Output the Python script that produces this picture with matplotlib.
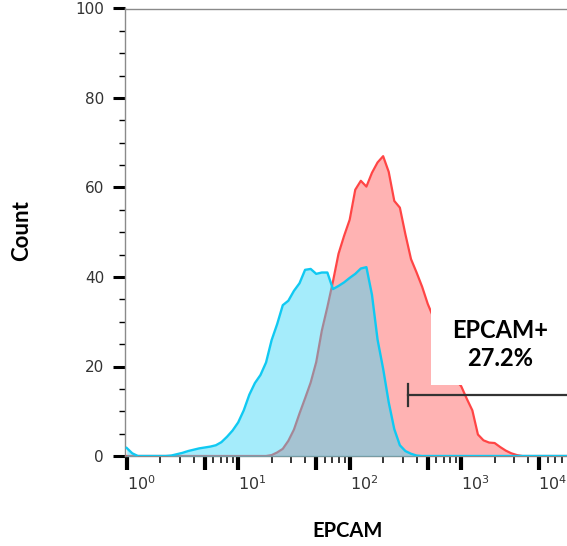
import numpy as np
import matplotlib
matplotlib.use("Agg")
import matplotlib.pyplot as plt
from matplotlib.patches import Rectangle

# histogram bins, log10 of EPCAM intensity (bin centres)
log_bins = np.round(np.arange(0, 4.001, 0.05), 2)

# isotype / negative control (cyan)
control_count = [1.8, 0.6, 0, 0, 0, 0, 0, 0, 0.1, 0.4,
                 0.7, 1.1, 1.4, 1.7, 1.9, 2.1, 2.4, 3.1, 4.3, 5.7,
                 7.5, 10.2, 13.7, 16.3, 18.1, 20.9, 25.9, 29.5, 33.7, 34.7,
                 36.9, 38.6, 41.6, 41.8, 40.7, 41.0, 41.0, 37.3, 38.0, 38.8,
                 39.8, 40.7, 41.9, 42.2, 36.0, 26.0, 19.5, 12.0, 6.0, 2.4,
                 1.1, 0.5, 0.1] + [0] * 28

# EPCAM stained sample (red)
epcam_count = [0] * 26 + [0.2, 0.8, 1.6, 3.4, 5.9, 9.5, 12.9, 16.4, 21.0, 28.0,
                          33.3, 39.0, 45.2, 49.2, 52.8, 59.5, 61.5, 60.2, 63.3, 65.6,
                          67.0, 63.5, 57.0, 55.5, 49.5, 44.0, 41.0, 37.8, 34.0, 31.0,
                          27.5, 24.0, 21.0, 17.0, 15.6, 12.8, 10.2, 4.8, 3.5, 3.0,
                          2.9, 2.0, 1.2, 0.6, 0.2] + [0] * 10

# gate
gate_start = 333
gate_level = 13.6
gate_label = "EPCAM+\n27.2%"

x = 10 ** log_bins
x_lo, x_hi = 10 ** -0.015, 10 ** 4.2

fig = plt.figure(figsize=(5.67, 5.46), dpi=100)
ax = fig.add_axes([125 / 567, 90 / 546, 470 / 567, 447.5 / 546])
ax.set_xscale("log")

ax.fill_between(x, epcam_count, 0, color="#ffb3b3", lw=0, zorder=1)
ax.plot(x, epcam_count, color="#ff4545", lw=1.6, zorder=2)
ax.fill_between(x, control_count, 0, color="#3bd6f8", alpha=0.46, lw=0, zorder=3)
ax.plot(x, control_count, color="#10c9f2", lw=1.7, zorder=4)

# label box + gate bar
ax.add_patch(Rectangle((10 ** 2.729, 15.8), x_hi - 10 ** 2.729, 18.4,
                       facecolor="white", lw=0, zorder=5))
ax.text(10 ** 3.348, 24.9, gate_label, ha="center", va="center",
        fontsize=17, fontweight="bold", family="Lato", linespacing=1.25, zorder=6)
ax.plot([gate_start, x_hi], [gate_level, gate_level], color="#333333", lw=1.6, zorder=6)
ax.plot([gate_start, gate_start], [gate_level - 2.4, gate_level + 2.6],
        color="#333333", lw=1.6, zorder=6)

ax.set_xlim(x_lo, x_hi)
ax.set_ylim(0, 100)

# axis ticks
majors = [1, 5, 10, 50, 100, 500, 1000, 5000, 10000]
labels = ["$10^{0}$", "", "$10^{1}$", "", "$10^{2}$", "", "$10^{3}$", "", ""]
ax.set_xticks(majors, labels)
ax.set_xticks([m * 10 ** d for d in range(4) for m in (2, 3, 4, 6, 7, 8, 9)], minor=True)
for lab in ax.get_xticklabels():
    lab.set_ha("left")

ax.set_yticks(np.arange(0, 101, 20))
ax.set_yticks(np.arange(0, 101, 5), minor=True)

ax.tick_params(axis="x", which="major", length=10, width=3, pad=3.5, labelsize=11.5,
               labelcolor="#333333")
ax.tick_params(axis="x", which="minor", length=5, width=1.1)
ax.tick_params(axis="y", which="major", length=8.6, width=2.2, pad=6.5, labelsize=11,
               labelcolor="#333333")
ax.tick_params(axis="y", which="minor", length=4.3, width=1)

for side in ["left", "top", "bottom", "right"]:
    ax.spines[side].set_color("#8a8a8a")
    ax.spines[side].set_linewidth(1.0)

# last decade label sits at the cropped right edge
fig.canvas.draw()
y_lab = ax.get_xticklabels()[0].get_window_extent().y0 / fig.bbox.height
fig.text(1.0, y_lab, "$10^{4}$", ha="right", va="bottom", fontsize=11.5, color="#333333")

fig.text(22 / 567, 1 - 231 / 546, "Count", rotation=90, ha="center", va="center",
         fontsize=16, fontweight="bold", family="Lato")
fig.text(347.5 / 567, 1 - 531 / 546, "EPCAM", ha="center", va="center",
         fontsize=14.5, fontweight="bold", family="Lato")

fig.savefig("out.png", dpi=100)
